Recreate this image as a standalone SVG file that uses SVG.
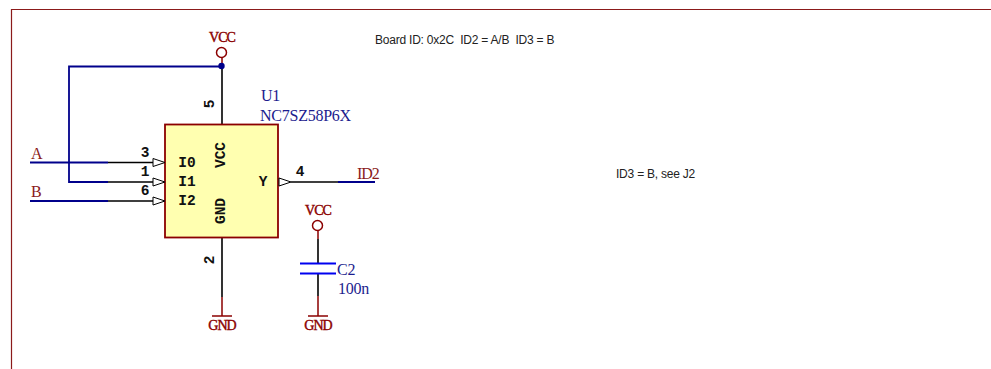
<svg xmlns="http://www.w3.org/2000/svg" width="991" height="369" viewBox="0 0 991 369">
<style>
.w{fill:none;stroke:#000;stroke-width:1.6}
.n{fill:none;stroke:#00008b;stroke-width:1.800}
.r{fill:none;stroke:#8b0000;stroke-width:1.5}
.c{fill:none;stroke:#0000f0;stroke-width:2}
.p{fill:#fff;stroke:#000;stroke-width:1}
.s{font-family:"Liberation Serif",serif}
.pw{font-size:14px;fill:#8b0000;stroke:#8b0000;stroke-width:.4;text-anchor:middle;letter-spacing:-1px;font-family:"Liberation Serif",serif}
.lb{font-size:16px;fill:#8b1a1a;letter-spacing:-.5px}
.id{letter-spacing:-1.100px}
.bl{font-size:16px;fill:#1c1c8e;letter-spacing:-.25px}
.m{font-family:"Liberation Mono","DejaVu Sans Mono",monospace;font-size:14.500px;font-weight:bold;fill:#111;text-anchor:middle}
.a{font-family:"Liberation Sans",sans-serif;font-size:12px;fill:#222;letter-spacing:-.22px;white-space:pre}
</style>
<rect x="0" y="0" width="991" height="369" fill="#fff"/>
<g id="frame"><path d="M11.500 369V9.500H991" fill="none" stroke="#8b1a1a" stroke-width="1.200"/></g>
<g id="connectors">
<path class="n" d="M221.500 66.500H69V182H108"/>
<path class="n" d="M30 162.500H108M30 201H108M338 182H375"/>
<path class="w" d="M108 162.500H153M108 182H153M108 201H153M291 182H338"/>
<path class="w" d="M222 66V124M222 238V297M318 239V263M318 274V296"/>
<path class="r" d="M222 57V66M222 297V316M318 231V239M318 296V316"/>
<circle cx="221.500" cy="66" r="3.200" fill="#00008b"/>
</g>
<g id="U1">
<rect x="165" y="124.500" width="113" height="113" fill="#ffffb0" stroke="#8b0000" stroke-width="1.800"/>
<path class="p" d="M153 158.500L165 162.500L153 166.500ZM153 178L165 182L153 186ZM153 197L165 201L153 205ZM279 178L291 182L279 186Z"/>
<text class="m" x="187" y="167">I0</text><text class="m" x="187" y="186">I1</text><text class="m" x="187" y="205">I2</text><text class="m" x="263" y="186">Y</text>
<text class="m" transform="translate(225 155) rotate(-90)">VCC</text>
<text class="m" transform="translate(225 211) rotate(-90)">GND</text>
<text class="m" x="145" y="157">3</text><text class="m" x="145" y="176">1</text><text class="m" x="145" y="195">6</text><text class="m" x="300" y="176">4</text>
<text class="m" transform="translate(214 104) rotate(-90)">5</text>
<text class="m" transform="translate(214 260) rotate(-90)">2</text>
<text class="s bl" x="261" y="101">U1</text>
<text class="s bl" x="260" y="121">NC7SZ58P6X</text>
</g>
<g id="VCC1"><circle class="r" cx="221.500" cy="52.500" r="5"/><text class="pw" x="222" y="41.500">VCC</text></g>
<g id="VCC2"><circle class="r" cx="317.500" cy="225.500" r="5"/><text class="pw" x="318" y="214.500">VCC</text></g>
<g id="GND1"><path class="r" d="M212 316H232"/><text class="pw" x="222" y="330">GND</text></g>
<g id="GND2"><path class="r" d="M308 316H328"/><text class="pw" x="318" y="330">GND</text></g>
<g id="C2">
<path class="c" d="M300 263.500H336M300 273.500H336"/>
<text class="s bl" x="337" y="275">C2</text><text class="s bl" x="338" y="294">100n</text>
</g>
<g id="A"><text class="s lb" x="31" y="159">A</text></g>
<g id="B"><text class="s lb" x="31" y="197">B</text></g>
<g id="ID2"><text class="s lb id" x="357" y="179">ID2</text></g>
<g id="note1"><text class="a" x="375" y="44" xml:space="preserve">Board ID: 0x2C  ID2 = A/B  ID3 = B</text></g>
<g id="note2"><text class="a" x="616" y="178">ID3 = B, see J2</text></g>
</svg>
